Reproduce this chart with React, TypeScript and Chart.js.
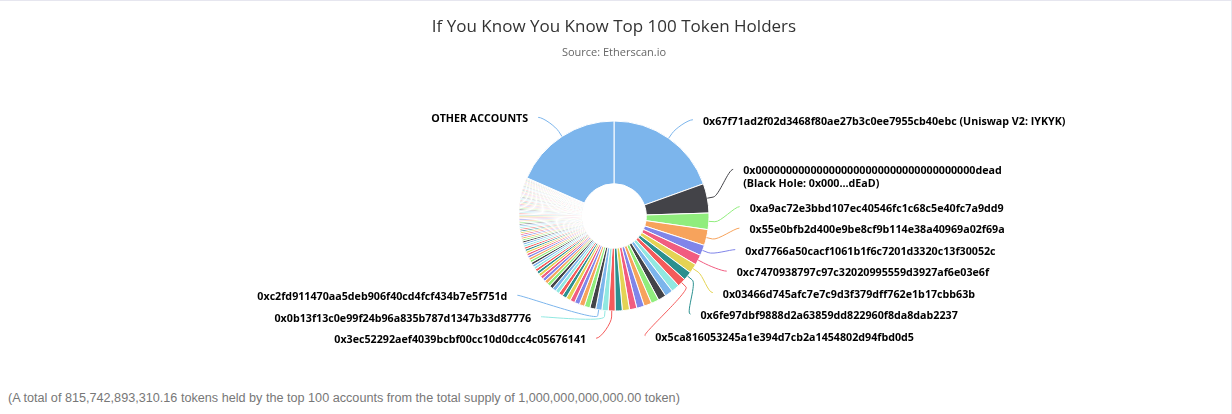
import { useEffect, useRef } from 'react';
import { Chart, registerables } from 'chart.js';

Chart.register(...registerables);

const chartTitle = 'If You Know You Know Top 100 Token Holders';
const chartSubtitle = 'Source: Etherscan.io';
const footnote =
  '(A total of 815,742,893,310.16 tokens held by the top 100 accounts from the total supply of 1,000,000,000,000.00 token)';

// Balances of the top 100 holders, in billions of tokens, by rank
const holderValues = [
  195.0, 50.0, 28.0, 27.0, 18.0, 17.5, 16.0, 15.0, 14.5,
  14.0, 13.8, 13.5, 13.2, 13.0, 12.8, 12.5, 12.2, 12.0,
  11.5, 11.0, 10.5,
  10.0, 9.5, 9.0, 8.6, 8.2, 7.8, 7.4, 7.1, 6.8, 6.5,
  6.2, 5.9, 5.7, 5.5, 5.3, 5.1, 4.9, 4.7, 4.5, 4.3,
  4.45, 4.35, 4.25, 4.15, 4.05, 3.95, 3.85, 3.75, 3.65, 3.55,
  3.45, 3.35, 3.25, 3.15, 3.05, 3.0, 2.95, 2.9, 2.85, 2.8,
  2.75, 2.7, 2.65, 2.6, 2.55, 2.5, 2.45, 2.4, 2.35, 2.3,
  2.27, 2.24, 2.21, 2.18, 2.15, 2.12, 2.09, 2.06, 2.03, 2.0,
  1.97, 1.95, 1.93, 1.91, 1.89, 1.87, 1.85, 1.83, 1.81, 1.79,
  1.77, 1.76, 1.75, 1.74, 1.73, 1.72, 1.71, 1.7, 1.69,
];
const otherAccountsValue = 184.26;
const otherAccountsLabel = 'OTHER ACCOUNTS';

// Slices whose data label is shown (index into holderValues; 100 = other accounts)
const labeledIndices = [0, 1, 2, 3, 4, 5, 6, 7, 8, 18, 19, 20, 100];
const labeledTexts = [
  '0x67f71ad2f02d3468f80ae27b3c0ee7955cb40ebc (Uniswap V2: IYKYK)',
  '0x000000000000000000000000000000000000dead\n(Black Hole: 0x000...dEaD)',
  '0xa9ac72e3bbd107ec40546fc1c68c5e40fc7a9dd9',
  '0x55e0bfb2d400e9be8cf9b114e38a40969a02f69a',
  '0xd7766a50cacf1061b1f6c7201d3320c13f30052c',
  '0xc7470938797c97c32020995559d3927af6e03e6f',
  '0x03466d745afc7e7c9d3f379dff762e1b17cbb63b',
  '0x6fe97dbf9888d2a63859dd822960f8da8dab2237',
  '0x5ca816053245a1e394d7cb2a1454802d94fbd0d5',
  '0x3ec52292aef4039bcbf00cc10d0dcc4c05676141',
  '0x0b13f13c0e99f24b96a835b787d1347b33d87776',
  '0xc2fd911470aa5deb906f40cd4fcf434b7e5f751d',
  otherAccountsLabel,
];

const palette = [
  '#7cb5ec', '#434348', '#90ed7d', '#f7a35c', '#8085e9',
  '#f15c80', '#e4d354', '#2b908f', '#f45b5b', '#91e8e1',
];

const LABEL_FONT = 'bold 10.7px "Open Sans"';

type LabelItem = {
  idx: number;
  mid: number;
  lines: string[];
  right: boolean;
  target: number;
  size: number;
  pos: number;
};

function distribute(list: LabelItem[], minY: number, maxY: number) {
  let groups = list.map((it) => ({ items: [it], targets: [it.target], size: it.size, pos: 0 }));
  let overlapping = true;
  let guard = 0;
  while (overlapping && guard++ < 200) {
    for (const g of groups) {
      const t = (Math.min(...g.targets) + Math.max(...g.targets)) / 2;
      g.pos = Math.min(Math.max(t - g.size / 2, minY), maxY - g.size);
    }
    overlapping = false;
    for (let i = groups.length - 1; i > 0; i--) {
      const a = groups[i - 1];
      const b = groups[i];
      if (a.pos + a.size > b.pos) {
        a.items = a.items.concat(b.items);
        a.targets = a.targets.concat(b.targets);
        a.size += b.size;
        groups.splice(i, 1);
        overlapping = true;
      }
    }
  }
  for (const g of groups) {
    let y = g.pos;
    for (const it of g.items) {
      it.pos = y;
      y += it.size;
    }
  }
}

const sliceLabelPlugin = {
  id: 'sliceLabels',
  afterDraw(chart: any) {
    const meta = chart.getDatasetMeta(0);
    const arcs = meta.data;
    if (!arcs || !arcs.length) return;
    const cx = arcs[0].x;
    const cy = arcs[0].y;
    const r = arcs[0].outerRadius;
    const R = r + 30;
    const Rx = r + 31;
    const Ry = r + 28.5;
    const labelCy = cy + 2;
    const colors = chart.data.datasets[0].backgroundColor as string[];
    const ctx: CanvasRenderingContext2D = chart.ctx;

    const items: LabelItem[] = labeledIndices.map((idx, k) => {
      const a = arcs[idx];
      const mid = (a.startAngle + a.endAngle) / 2;
      const lines = labeledTexts[k].split('\n');
      return {
        idx,
        mid,
        lines,
        right: Math.cos(mid) >= 0,
        target: cy + Math.sin(mid) * R,
        size: lines.length > 1 ? 34 : 21.5,
        pos: 0,
      };
    });
    const minY = cy - R - 20;
    const maxY = cy + R + 2;
    for (const side of [true, false]) {
      const list = items.filter((it) => it.right === side).sort((a, b) => a.target - b.target);
      distribute(list, minY, maxY);
    }

    ctx.save();
    ctx.font = LABEL_FONT;
    ctx.textBaseline = 'middle';
    for (const it of items) {
      const center = it.pos + it.size / 2 + 8 - (it.lines.length - 1) * 3;
      const firstY = center - ((it.lines.length - 1) * 13) / 2;
      const dy = Math.max(-Ry, Math.min(Ry, center - labelCy));
      const xoff = Rx * Math.sqrt(Math.max(0, 1 - (dy / Ry) * (dy / Ry)));
      const sign = it.right ? 1 : -1;
      const anchorX = cx + sign * xoff;
      const textX = anchorX + sign * 10;
      const sx = anchorX;
      const sy = firstY - 2;
      const ex = cx + Math.cos(it.mid) * r;
      const ey = cy + Math.sin(it.mid) * r;
      const bx = cx + Math.cos(it.mid) * (r + 6);
      const by = cy + Math.sin(it.mid) * (r + 6);
      ctx.beginPath();
      ctx.moveTo(sx, sy);
      ctx.bezierCurveTo(sx - sign * 5, sy, 2 * bx - ex, 2 * by - ey, bx, by);
      ctx.lineTo(ex, ey);
      ctx.strokeStyle = colors[it.idx];
      ctx.lineWidth = 1;
      ctx.stroke();

      ctx.fillStyle = '#000000';
      ctx.textAlign = it.right ? 'left' : 'right';
      it.lines.forEach((line, li) => {
        ctx.fillText(line, textX, firstY + li * 13);
      });
    }
    ctx.restore();
  },
};

export default function App() {
  const canvasRef = useRef<HTMLCanvasElement | null>(null);

  useEffect(() => {
    const canvas = canvasRef.current;
    if (!canvas) return;
    const values = [...holderValues, otherAccountsValue];
    const labels = values.map((_, i) => {
      const k = labeledIndices.indexOf(i);
      return k >= 0 ? labeledTexts[k] : `Holder #${i + 1}`;
    });
    const colors = values.map((_, i) => palette[i % palette.length]);
    const chart = new Chart(canvas, {
      type: 'doughnut',
      data: {
        labels,
        datasets: [
          {
            data: values,
            backgroundColor: colors,
            borderColor: '#ffffff',
            borderWidth: 1,
          } as any,
        ],
      },
      options: {
        responsive: false,
        animation: false,
        devicePixelRatio: 1,
        radius: 95,
        cutout: '34%',
        layout: { padding: { top: 0, bottom: 8.6, left: 0, right: 3 } },
        plugins: {
          legend: { display: false },
          tooltip: { enabled: false },
          title: {
            display: true,
            text: chartTitle,
            color: '#333333',
            font: { family: '"Open Sans"', size: 17, weight: 'normal' },
            padding: { top: 16, bottom: 6 },
          },
          subtitle: {
            display: true,
            text: chartSubtitle,
            color: '#666666',
            font: { family: '"Open Sans"', size: 11, weight: 'normal' },
            padding: { top: 3, bottom: 0 },
          },
        },
      } as any,
      plugins: [sliceLabelPlugin],
    });
    return () => chart.destroy();
  }, []);

  return (
    <div
      style={{
        position: 'fixed',
        left: 0,
        top: 0,
        width: 1232,
        height: 414,
        boxSizing: 'border-box',
        borderTop: '1px solid #e6e6ef',
        borderRight: '1px solid #e6e6ef',
        background: '#ffffff',
        overflow: 'hidden',
      }}
    >
      <canvas
        ref={canvasRef}
        width={1231}
        height={380}
        style={{ position: 'absolute', left: 0, top: 0, width: 1231, height: 380 }}
      />
      <div
        style={{
          position: 'absolute',
          left: 8,
          top: 389,
          font: '12.65px "Liberation Sans", Arial, sans-serif',
          lineHeight: '16px',
          color: '#777777',
          whiteSpace: 'nowrap',
        }}
      >
        {footnote}
      </div>
    </div>
  );
}
